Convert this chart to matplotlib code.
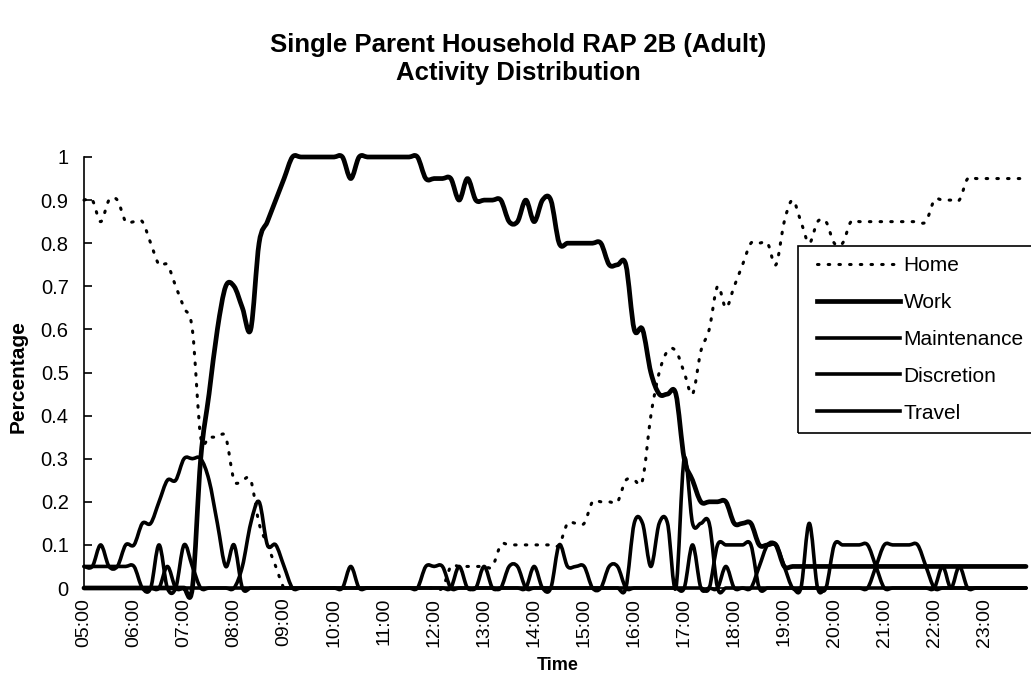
import numpy as np
import pandas as pd
import matplotlib
matplotlib.use('Agg')
import matplotlib.pyplot as plt
from matplotlib.path import Path
from matplotlib.patches import PathPatch, Rectangle
from matplotlib.lines import Line2D

plt.rcParams['font.family'] = ['Liberation Sans', 'DejaVu Sans']

# 10-minute time slots, 05:00 .. 23:50
times = pd.date_range('2000-01-01 05:00', '2000-01-01 23:50', freq='10min')
hour_labels = ['%02d:00' % h for h in range(5, 24)]

home = [
    .9, .9, .85, .9, .9, .85, .85, .85, .8, .75, .75, .7,
    .65, .6, .35, .35, .35, .35, .25, .25, .25, .15, .1, .05,
    0, 0, 0, 0, 0, 0, 0, 0, 0, 0, 0, 0,
    0, 0, 0, 0, 0, 0, 0, 0, .05, .05, .05, .05,
    .05, .05, .1, .1, .1, .1, .1, .1, .1, .1, .15, .15,
    .15, .2, .2, .2, .2, .25, .25, .25, .4, .5, .55, .55,
    .5, .45, .55, .6, .7, .65, .7, .75, .8, .8, .8, .75,
    .85, .9, .85, .8, .85, .85, .8, .8, .85, .85, .85, .85,
    .85, .85, .85, .85, .85, .85, .9, .9, .9, .9, .95, .95,
    .95, .95, .95, .95, .95, .95,
]
work = [
    0, 0, 0, 0, 0, 0, 0, 0, 0, 0, 0, 0,
    0, 0, .3, .45, .6, .7, .7, .65, .6, .8, .85, .9,
    .95, 1, 1, 1, 1, 1, 1, 1, .95, 1, 1, 1,
    1, 1, 1, 1, 1, .95, .95, .95, .95, .9, .95, .9,
    .9, .9, .9, .85, .85, .9, .85, .9, .9, .8, .8, .8,
    .8, .8, .8, .75, .75, .75, .6, .6, .5, .45, .45, .45,
    .3, .25, .2, .2, .2, .2, .15, .15, .15, .1, .1, .1,
    .05, .05, .05, .05, .05, .05, .05, .05, .05, .05, .05, .05,
    .05, .05, .05, .05, .05, .05, .05, .05, .05, .05, .05, .05,
    .05, .05, .05, .05, .05, .05,
]
maintenance = [
    .05, .05, .05, .05, .05, .05, .05, 0, 0, .1, 0, 0,
    .1, .05, 0, 0, 0, 0, 0, 0, 0, 0, 0, 0,
    0, 0, 0, 0, 0, 0, 0, 0, .05, 0, 0, 0,
    0, 0, 0, 0, 0, 0, 0, 0, 0, .05, 0, 0,
    0, 0, 0, 0, 0, 0, 0, 0, 0, 0, 0, 0,
    0, 0, 0, 0, 0, 0, .15, .15, .05, .15, .15, 0,
    .3, .15, .15, .15, 0, 0, 0, 0, 0, 0, 0, 0,
    0, 0, 0, .15, 0, 0, 0, 0, 0, 0, 0, 0,
    0, 0, 0, 0, 0, 0, 0, .05, 0, .05, 0, 0,
    0, 0, 0, 0, 0, 0,
]
discretion = [
    0, 0, 0, 0, 0, 0, 0, 0, 0, 0, .05, 0,
    0, 0, 0, 0, 0, 0, 0, .05, .15, .2, .1, .1,
    .05, 0, 0, 0, 0, 0, 0, 0, 0, 0, 0, 0,
    0, 0, 0, 0, 0, .05, .05, .05, 0, 0, 0, 0,
    0, 0, 0, .05, .05, 0, 0, 0, 0, 0, 0, 0,
    0, 0, 0, 0, 0, 0, 0, 0, 0, 0, 0, 0,
    0, 0, 0, 0, .1, .1, .1, .1, .1, 0, 0, 0,
    0, 0, 0, 0, 0, 0, .1, .1, .1, .1, .1, .05,
    0, 0, 0, 0, 0, 0, 0, 0, 0, 0, 0, 0,
    0, 0, 0, 0, 0, 0,
]
travel = [
    .05, .05, .1, .05, .05, .1, .1, .15, .15, .2, .25, .25,
    .3, .3, .3, .25, .15, .05, .1, 0, 0, 0, 0, 0,
    0, 0, 0, 0, 0, 0, 0, 0, 0, 0, 0, 0,
    0, 0, 0, 0, 0, 0, 0, 0, 0, 0, 0, 0,
    .05, 0, 0, 0, 0, 0, .05, 0, 0, .1, .05, .05,
    .05, 0, 0, .05, .05, 0, 0, 0, 0, 0, 0, 0,
    0, .1, 0, 0, 0, .05, 0, 0, 0, .05, .1, .1,
    .05, 0, 0, 0, 0, 0, 0, 0, 0, 0, 0, .05,
    .1, .1, .1, .1, .1, .05, 0, 0, 0, 0, 0, 0,
    0, 0, 0, 0, 0, 0,
]


def smooth_path(xs, ys):
    # Bezier curve through every point, same tangents as a spreadsheet "smoothed line"
    n = len(xs)
    verts = [(xs[0], ys[0])]
    codes = [Path.MOVETO]
    for i in range(n - 1):
        a, b = max(i - 1, 0), min(i + 2, n - 1)
        c1 = (xs[i] + (xs[i + 1] - xs[a]) / 6, ys[i] + (ys[i + 1] - ys[a]) / 6)
        c2 = (xs[i + 1] - (xs[b] - xs[i]) / 6, ys[i + 1] - (ys[b] - ys[i]) / 6)
        verts += [c1, c2, (xs[i + 1], ys[i + 1])]
        codes += [Path.CURVE4] * 3
    return Path(verts, codes)


dotted = (0, (0.5, 3.0))
series = [
    ('Home', home, dict(lw=2.2, ls=dotted)),
    ('Work', work, dict(lw=3.4, ls='-')),
    ('Maintenance', maintenance, dict(lw=2.6, ls='-')),
    ('Discretion', discretion, dict(lw=2.6, ls='-')),
    ('Travel', travel, dict(lw=2.6, ls='-')),
]

W, H = 1031, 680
fig = plt.figure(figsize=(W / 100, H / 100), dpi=100)
ax = fig.add_axes([84 / W, 1 - 588 / H, (1026 - 84) / W, (588 - 157) / H])

x = np.arange(len(times))
handles = []
for name, vals, st in series:
    patch = PathPatch(smooth_path(x, np.asarray(vals, float)), fill=False, ec='black',
                      lw=st['lw'], ls=st['ls'], capstyle='round', joinstyle='round',
                      clip_on=False)
    ax.add_patch(patch)
    handles.append(Line2D([], [], color='black', lw=st['lw'], ls=st['ls'],
                          dash_capstyle='round', label=name))

ax.set_xlim(0, len(times) - 1)
ax.set_ylim(0, 1)
ax.set_yticks(np.arange(0, 1.01, 0.1))
ax.set_yticklabels(['0'] + ['%.1f' % v for v in np.arange(0.1, 0.95, 0.1)] + ['1'])
ax.set_xticks(np.arange(0, len(times), 6))
ax.set_xticklabels(hour_labels, rotation=90)

for side in ('top', 'right'):
    ax.spines[side].set_visible(False)
for side in ('left', 'bottom'):
    ax.spines[side].set_linewidth(1.2)
ax.tick_params(axis='y', direction='in', length=6, width=1.2, labelsize=14.5, pad=11)
ax.tick_params(axis='x', length=0, labelsize=14, pad=7)

ax.set_ylabel('Percentage', fontsize=15, fontweight='bold', va='center')
ax.yaxis.set_label_coords(18 / W, 1 - 377 / H, transform=fig.transFigure)
ax.set_xlabel('Time', fontsize=13, fontweight='bold')
ax.xaxis.set_label_coords(558 / W, 1 - 657 / H, transform=fig.transFigure)

fig.text(518 / W, 1 - 59 / H, 'Single Parent Household RAP 2B (Adult)\nActivity Distribution',
         ha='center', va='center', fontsize=18.5, fontweight='bold', linespacing=1.2)

# legend box: frame drawn on its own so the left margin can be wider than the top one
fig.add_artist(Rectangle((798 / W, 1 - 433 / H), (1040 - 798) / W, (433 - 246) / H,
                         transform=fig.transFigure, fill=False, ec='black', lw=1.2,
                         clip_on=False))
ax.legend(handles=handles, loc='upper left',
          bbox_to_anchor=(817 / W, 1 - 256 / H), bbox_transform=fig.transFigure,
          frameon=False, fontsize=15, handlelength=4.0, handletextpad=0.15,
          labelspacing=0.86, borderpad=0, borderaxespad=0)

fig.savefig('out.png', dpi=100)
